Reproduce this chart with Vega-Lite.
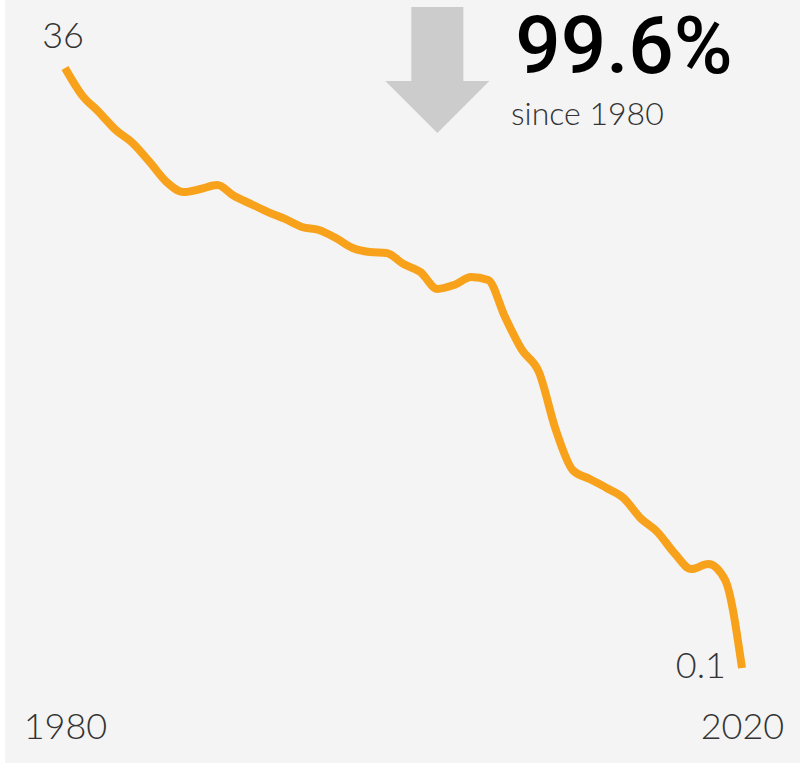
{
  "$schema": "https://vega.github.io/schema/vega-lite/v6.json",
  "autosize": {"type": "none"},
  "width": 795,
  "height": 763,
  "padding": {"left": 5, "top": 0, "right": 0, "bottom": 6},
  "background": "#ffffff",
  "config": {"view": {"fill": "#f4f4f4", "stroke": null}, "font": "Lato"},
  "datasets": {
    "series": [
      {"year": 1980, "value": 36.0},
      {"year": 1981, "value": 34.38},
      {"year": 1982, "value": 33.37},
      {"year": 1983, "value": 32.29},
      {"year": 1984, "value": 31.51},
      {"year": 1985, "value": 30.38},
      {"year": 1986, "value": 29.18},
      {"year": 1987, "value": 28.58},
      {"year": 1988, "value": 28.76},
      {"year": 1989, "value": 29.0},
      {"year": 1990, "value": 28.34},
      {"year": 1991, "value": 27.86},
      {"year": 1992, "value": 27.38},
      {"year": 1993, "value": 26.97},
      {"year": 1994, "value": 26.49},
      {"year": 1995, "value": 26.31},
      {"year": 1996, "value": 25.83},
      {"year": 1997, "value": 25.23},
      {"year": 1998, "value": 24.99},
      {"year": 1999, "value": 24.93},
      {"year": 2000, "value": 24.27},
      {"year": 2001, "value": 23.79},
      {"year": 2002, "value": 22.78},
      {"year": 2003, "value": 23.02},
      {"year": 2004, "value": 23.49},
      {"year": 2005, "value": 23.32},
      {"year": 2006, "value": 21.1},
      {"year": 2007, "value": 19.13},
      {"year": 2008, "value": 17.81},
      {"year": 2009, "value": 14.34},
      {"year": 2010, "value": 11.94},
      {"year": 2011, "value": 11.41},
      {"year": 2012, "value": 10.87},
      {"year": 2013, "value": 10.27},
      {"year": 2014, "value": 9.07},
      {"year": 2015, "value": 8.24},
      {"year": 2016, "value": 6.98},
      {"year": 2017, "value": 6.02},
      {"year": 2018, "value": 6.32},
      {"year": 2019, "value": 5.37},
      {"year": 2020, "value": 0.1}
    ],
    "notes": [
      {"kind": "arrow", "label": "", "year": 2002, "value": 35.88},
      {"kind": "big", "label": "99.6%", "year": 2006.6, "value": 35.7},
      {"kind": "small", "label": "since 1980", "year": 2006.35, "value": 32.59}
    ]
  },
  "data": {"name": "series"},
  "layer": [
    {
      "mark": {"type": "line", "color": "#f8a11b", "strokeWidth": 8, "interpolate": "monotone", "strokeCap": "butt", "clip": false},
      "encoding": {
        "x": {
          "field": "year", "type": "quantitative",
          "scale": {"domain": [1980, 2020], "range": [60, 737], "nice": false, "zero": false},
          "axis": {
            "values": [1980, 2020], "format": "d", "title": null, "domain": false, "ticks": false, "grid": false,
            "labelFontSize": 36, "labelFont": "Lato", "labelFontWeight": 300, "labelColor": "#333333",
            "labelFlush": false, "labelAlign": "center", "labelBaseline": "middle", "labelPadding": 0, "offset": -36
          }
        },
        "y": {
          "field": "value", "type": "quantitative",
          "scale": {"domain": [0.1, 36], "range": [668, 68], "nice": false, "zero": false},
          "axis": null
        }
      }
    },
    {
      "transform": [{"filter": "datum.year == 1980"}],
      "mark": {"type": "text", "align": "center", "baseline": "alphabetic", "dx": -2, "dy": -20, "fontSize": 36, "fontWeight": 300, "color": "#333333", "font": "Lato"},
      "encoding": {
        "x": {"field": "year", "type": "quantitative"},
        "y": {"field": "value", "type": "quantitative"},
        "text": {"field": "value", "type": "quantitative"}
      }
    },
    {
      "transform": [{"filter": "datum.year == 2020"}],
      "mark": {"type": "text", "align": "right", "baseline": "alphabetic", "dx": -16, "dy": 10, "fontSize": 36, "fontWeight": 300, "color": "#333333", "font": "Lato"},
      "encoding": {
        "x": {"field": "year", "type": "quantitative"},
        "y": {"field": "value", "type": "quantitative"},
        "text": {"field": "value", "type": "quantitative"}
      }
    },
    {
      "data": {"name": "notes"},
      "transform": [{"filter": "datum.kind == 'arrow'"}],
      "mark": {"type": "point", "filled": true, "opacity": 1, "color": "#cccccc", "strokeWidth": 0, "size": 15876,
        "shape": "M-0.413,-1 L0.413,-1 L0.413,0.175 L0.825,0.175 L0,1 L-0.825,0.175 L-0.413,0.175 Z"},
      "encoding": {
        "x": {"field": "year", "type": "quantitative"},
        "y": {"field": "value", "type": "quantitative"}
      }
    },
    {
      "data": {"name": "notes"},
      "transform": [{"filter": "datum.kind == 'big'"}],
      "mark": {"type": "text", "align": "left", "baseline": "alphabetic", "fontSize": 80, "fontWeight": 500, "color": "#000000", "font": "Roboto"},
      "encoding": {
        "x": {"field": "year", "type": "quantitative"},
        "y": {"field": "value", "type": "quantitative"},
        "text": {"field": "label"}
      }
    },
    {
      "data": {"name": "notes"},
      "transform": [{"filter": "datum.kind == 'small'"}],
      "mark": {"type": "text", "align": "left", "baseline": "alphabetic", "fontSize": 32, "fontWeight": 300, "color": "#333333", "font": "Lato"},
      "encoding": {
        "x": {"field": "year", "type": "quantitative"},
        "y": {"field": "value", "type": "quantitative"},
        "text": {"field": "label"}
      }
    }
  ]
}
